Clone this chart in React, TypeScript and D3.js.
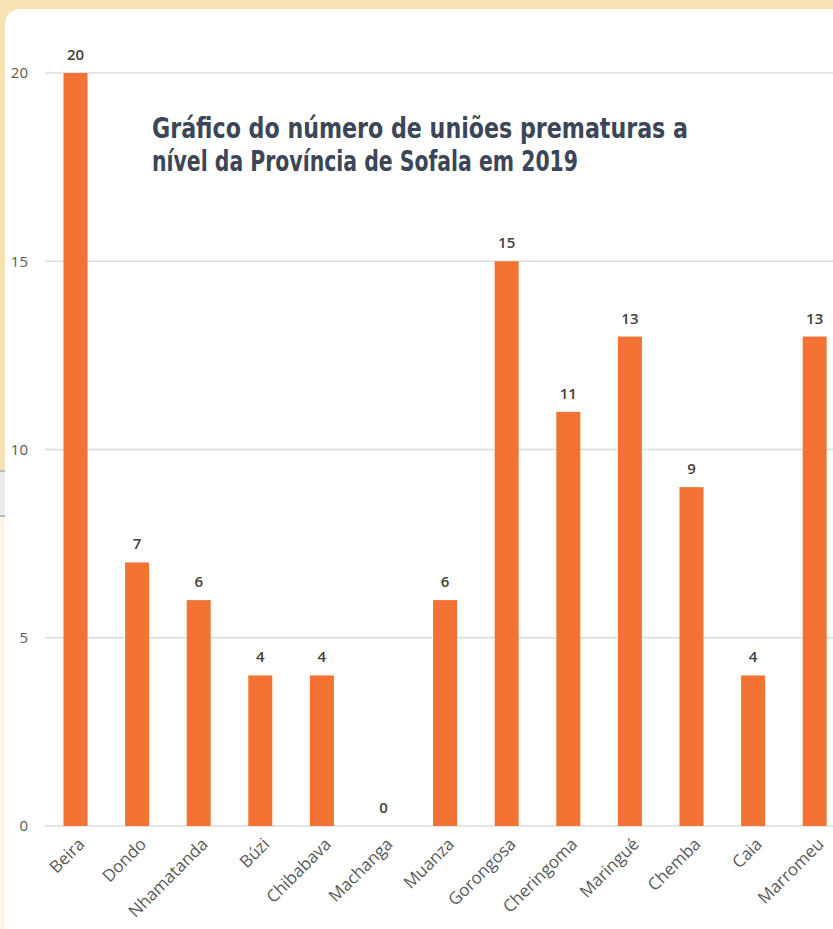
import React from "react";
import * as d3 from "d3";

const categories = ["Beira", "Dondo", "Nhamatanda", "Búzi", "Chibabava", "Machanga", "Muanza", "Gorongosa", "Cheringoma", "Maringué", "Chemba", "Caia", "Marromeu"];
const values = [20, 7, 6, 4, 4, 0, 6, 15, 11, 13, 9, 4, 13];
const yTicks = [0, 5, 10, 15, 20];
const titleLines = ["Gráfico do número de uniões prematuras a", "nível da Província de Sofala em 2019"];

const W = 833;
const H = 929;

export default function App() {
  const x = d3.scaleBand<string>().domain(categories).range([44.7, 845.5]).paddingInner(0.61).paddingOuter(0.305);
  const y = d3.scaleLinear().domain([0, 20]).range([826, 73]);
  const labelFont = "'Open Sans', 'DejaVu Sans', sans-serif";
  const titleFont = "'Liberation Sans Narrow', 'DejaVu Sans Condensed', 'Open Sans', sans-serif";
  return (
    <svg width={W} height={H} style={{ position: "absolute", left: 0, top: 0, display: "block" }}>
      <rect x={0} y={0} width={W} height={H} fill="#f6e3b1" />
      <rect x={0} y={470} width={6} height={47} fill="#ededed" />
      <line x1={0} x2={5} y1={471} y2={471} stroke="#8a8a8a" strokeWidth={1} />
      <line x1={0} x2={5} y1={516} y2={516} stroke="#8a8a8a" strokeWidth={1} />
      <rect x={0} y={517} width={6} height={H - 517} fill="#fdf5e5" />
      <path d={`M5,26 Q5,9 22,9 L${W},9 L${W},${H} L5,${H} Z`} fill="#ffffff" />
      <g>
        {yTicks.map((t) => (
          <g key={t}>
            <line x1={45} x2={W} y1={y(t)} y2={y(t)} stroke="#dcdcdc" strokeWidth={1.5} />
            <text x={28} y={y(t)} dy="0.35em" textAnchor="end" fontSize={15} fill="#595959" fontFamily={labelFont}>{t}</text>
          </g>
        ))}
      </g>
      <g>
        {categories.map((c, i) => (
          <rect key={c} x={x(c)} y={y(values[i])} width={x.bandwidth()} height={y(0) - y(values[i])} fill="#f27334" />
        ))}
      </g>
      <g>
        {categories.map((c, i) => (
          <text key={c} x={(x(c) as number) + x.bandwidth() / 2} y={y(values[i]) - 13} textAnchor="middle" fontSize={15} fontWeight={600} fill="#404040" fontFamily={labelFont}>{values[i]}</text>
        ))}
      </g>
      <g>
        {categories.map((c) => {
          const cx = (x(c) as number) + x.bandwidth() / 2;
          return (
            <text key={c} transform={`translate(${cx + 6},${841}) rotate(-45)`} textAnchor="end" dy="0.35em" fontSize={17} fill="#595959" fontFamily={labelFont}>{c}</text>
          );
        })}
      </g>
      <text x={152} y={138} fontSize={28} fontWeight={700} fill="#3b4657" fontFamily={titleFont} textLength={536} lengthAdjust="spacingAndGlyphs">{titleLines[0]}</text>
      <text x={152} y={171} fontSize={28} fontWeight={700} fill="#3b4657" fontFamily={titleFont} textLength={426} lengthAdjust="spacingAndGlyphs">{titleLines[1]}</text>
    </svg>
  );
}
